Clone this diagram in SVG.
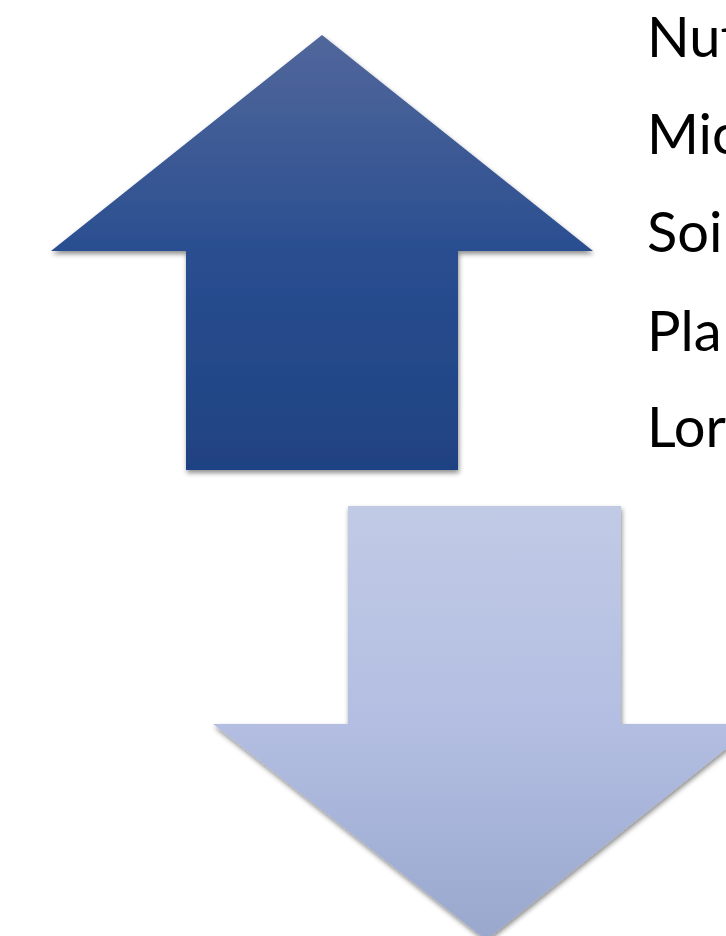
<svg xmlns="http://www.w3.org/2000/svg" width="726" height="936" viewBox="0 0 726 936">
  <style>
    .lbl { font-family: Lato, "Open Sans", "Liberation Sans", sans-serif; font-size: 56px; fill: #000000; }
  </style>
  <defs>
    <linearGradient id="gUp" x1="0" y1="35" x2="0" y2="470" gradientUnits="userSpaceOnUse">
      <stop offset="0" stop-color="#51679b"/>
      <stop offset="0.5" stop-color="#2a4e90"/>
      <stop offset="1" stop-color="#1f4283"/>
    </linearGradient>
    <linearGradient id="gDown" x1="0" y1="506" x2="0" y2="936" gradientUnits="userSpaceOnUse">
      <stop offset="0" stop-color="#c1cae5"/>
      <stop offset="0.5" stop-color="#b3bee2"/>
      <stop offset="1" stop-color="#9aa8ce"/>
    </linearGradient>
    <filter id="shadow" x="-10%" y="-10%" width="120%" height="120%">
      <feDropShadow dx="1" dy="3" stdDeviation="2.5" flood-color="#000000" flood-opacity="0.45"/>
    </filter>
  </defs>
  <rect width="726" height="936" fill="#ffffff"/>
  <g id="arrow-up">
    <polygon points="322,35 593,251 458,251 458,470 186,470 186,251 51,251" fill="url(#gUp)" filter="url(#shadow)"/>
  </g>
  <g id="arrow-down">
    <polygon points="348,506 621,506 621,724 757,724 486,940 213,724 348,724" fill="url(#gDown)" filter="url(#shadow)"/>
  </g>
  <g id="labels">
    <text class="lbl" x="647" y="57">Nut</text>
    <text class="lbl" x="647" y="154">Mic</text>
    <text class="lbl" x="647" y="252">Soi</text>
    <text class="lbl" x="647" y="351">Pla</text>
    <text class="lbl" x="647" y="447">Lor</text>
  </g>
</svg>
